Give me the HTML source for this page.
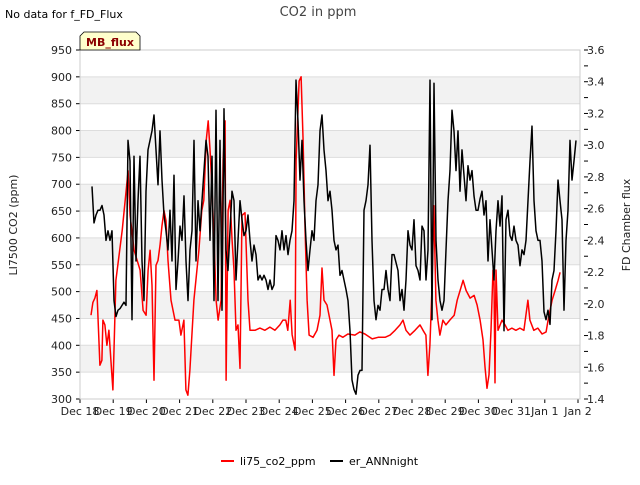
<!DOCTYPE html>
<html><head><meta charset="utf-8"><style>
body{margin:0;background:#fff;font-family:"Liberation Sans","DejaVu Sans",sans-serif}
svg text{font-family:"DejaVu Sans","Liberation Sans",sans-serif}
</style></head><body>
<svg id="chart" width="640" height="480" viewBox="0 0 640 480" xmlns="http://www.w3.org/2000/svg">
<text x="318" y="16" font-size="13" fill="#444" text-anchor="middle">CO2 in ppm</text>
<text x="5" y="18" font-size="11" fill="#000">No data for f_FD_Flux</text>
<g id="plot"></g>
<g>
<path d="M80,50 L80,36 L84,32 L136,32 L140,36 L140,50 Z" fill="#ffffcc" stroke="#000" stroke-width="0.8"/>
<text x="110" y="46" font-size="11" font-weight="bold" fill="#8b0000" text-anchor="middle">MB_flux</text>
</g>
<text transform="translate(17,225) rotate(-90)" font-size="11" text-anchor="middle" fill="#222">LI7500 CO2 (ppm)</text>
<text transform="translate(630,225) rotate(-90)" font-size="11" text-anchor="middle" fill="#222">FD Chamber flux</text>
<g>
<g><line x1="221" y1="461" x2="234" y2="461" stroke="#f00" stroke-width="2"/><text x="240" y="465" font-size="11">li75_co2_ppm</text></g>
<g><line x1="330" y1="461" x2="343" y2="461" stroke="#000" stroke-width="2"/><text x="349" y="465" font-size="11">er_ANNnight</text></g>
</g>
</svg>
<script>
const xTickLabels=["Dec 18","Dec 19","Dec 20","Dec 21","Dec 22","Dec 23","Dec 24","Dec 25","Dec 26","Dec 27","Dec 28","Dec 29","Dec 30","Dec 31","Jan 1","Jan 2"];
const yTicks=[300,350,400,450,500,550,600,650,700,750,800,850,900,950];
const y2Ticks=[1.4,1.6,1.8,2.0,2.2,2.4,2.6,2.8,3.0,3.2,3.4,3.6];
const redDays=[0.33,0.39,0.45,0.51,0.57,0.60,0.66,0.69,0.75,0.81,0.87,0.93,0.99,1.08,1.27,1.45,1.51,1.63,1.81,1.90,1.99,2.05,2.11,2.17,2.23,2.29,2.35,2.41,2.47,2.53,2.59,2.65,2.74,2.86,2.98,3.04,3.13,3.19,3.25,3.31,3.43,3.58,3.67,3.73,3.80,3.86,3.92,3.98,4.04,4.10,4.16,4.25,4.31,4.37,4.40,4.46,4.52,4.58,4.64,4.70,4.76,4.82,4.88,4.97,5.06,5.12,5.27,5.42,5.57,5.72,5.87,6.02,6.11,6.20,6.26,6.33,6.39,6.48,6.51,6.60,6.66,6.72,6.78,6.84,6.90,7.02,7.14,7.23,7.29,7.35,7.44,7.53,7.59,7.65,7.71,7.80,7.92,8.07,8.28,8.43,8.58,8.80,8.98,9.19,9.34,9.49,9.64,9.73,9.82,9.94,10.09,10.24,10.33,10.42,10.48,10.54,10.60,10.66,10.72,10.78,10.84,10.93,11.02,11.14,11.27,11.36,11.45,11.54,11.63,11.75,11.87,11.96,12.05,12.14,12.20,12.26,12.32,12.38,12.44,12.47,12.50,12.53,12.59,12.71,12.80,12.89,13.01,13.13,13.25,13.37,13.49,13.55,13.67,13.79,13.92,14.04,14.10,14.22,14.31,14.40,14.46];
const redValues=[456,480,488,502,410,363,372,447,438,400,428,372,317,521,614,725,642,577,540,465,456,540,577,512,335,549,558,586,623,651,632,558,484,447,447,419,447,317,307,354,484,577,651,670,781,818,762,688,595,484,447,484,744,818,335,651,670,595,540,428,438,357,642,647,484,428,428,432,428,434,428,438,447,447,428,484,420,391,744,892,900,781,614,484,419,415,428,456,544,484,475,447,428,344,410,419,415,421,419,425,421,412,415,415,419,428,438,447,428,419,428,438,428,419,344,400,502,660,484,447,419,447,438,447,456,484,502,521,502,488,493,475,447,410,360,320,345,428,540,521,330,540,428,447,438,428,432,428,432,428,484,447,428,432,421,425,447,484,502,521,536];
const blackStartDay=0.361;
const blackStepDay=0.06024;
const blackValues=[2.74,2.51,2.56,2.59,2.59,2.62,2.56,2.40,2.46,2.40,2.46,2.02,1.92,1.96,1.97,1.99,2.01,1.99,3.03,2.90,1.90,2.93,2.27,2.65,2.93,2.27,2.02,2.71,2.97,3.03,3.09,3.19,2.97,2.75,3.09,2.78,2.56,2.46,2.34,2.59,2.27,2.81,2.09,2.27,2.49,2.40,2.68,2.27,2.02,2.34,2.46,3.03,2.27,2.65,2.46,2.65,2.84,3.03,2.93,2.40,2.93,2.02,3.22,2.02,3.03,1.96,3.23,2.34,2.21,2.46,2.71,2.65,2.15,2.40,2.65,2.53,2.43,2.46,2.56,2.40,2.27,2.37,2.31,2.15,2.18,2.15,2.18,2.15,2.09,2.15,2.09,2.12,2.43,2.40,2.34,2.46,2.34,2.43,2.31,2.40,2.46,2.65,3.41,3.15,2.78,3.03,2.65,2.40,2.21,2.34,2.46,2.40,2.65,2.75,3.09,3.19,2.97,2.84,2.65,2.71,2.59,2.40,2.34,2.37,2.18,2.21,2.15,2.09,2.02,1.83,1.52,1.46,1.43,1.55,1.58,1.58,2.59,2.65,2.75,3.00,2.40,2.02,1.90,1.99,1.96,2.09,2.09,2.21,2.09,2.02,2.31,2.31,2.26,2.21,2.02,2.09,1.96,2.15,2.46,2.37,2.34,2.53,2.24,2.21,2.15,2.49,2.46,2.15,2.34,3.41,1.90,3.39,2.40,2.15,2.02,1.96,2.02,2.34,2.65,2.84,3.22,3.09,2.84,3.09,2.71,2.97,2.81,2.65,2.87,2.78,2.84,2.68,2.59,2.59,2.66,2.71,2.56,2.65,2.27,2.53,2.34,2.15,2.46,2.65,2.49,2.68,1.83,2.53,2.59,2.43,2.40,2.49,2.40,2.37,2.24,2.34,2.31,2.40,2.65,2.90,3.12,2.65,2.46,2.40,2.40,2.27,1.95,1.90,1.96,1.87,2.15,2.21,2.46,2.78,2.65,2.53,1.96,2.40,2.59,3.03,2.78,2.90,3.03];

const NS="http://www.w3.org/2000/svg";
const L=80,R=580,T=50,B=399,dayPx=33.2;
const xs=d=>L+d*dayPx;
const yL=v=>B-(v-300)*(B-T)/650;
const yR=v=>B-(v-1.4)*(B-T)/2.2;
const plot=document.getElementById('plot');
function mk(tag,attrs,parent){const e=document.createElementNS(NS,tag);for(const k in attrs)e.setAttribute(k,attrs[k]);(parent||plot).appendChild(e);return e;}
mk('rect',{x:L,y:T,width:R-L,height:B-T,fill:'#fff'});
for(let i=0;i<yTicks.length-1;i++){
  if(i%2===1){const b=mk('rect',{x:L,y:yL(yTicks[i+1]),width:R-L,height:yL(yTicks[i])-yL(yTicks[i+1]),fill:'#f2f2f2'});
  
  }
}
yTicks.forEach(v=>{
  mk('line',{x1:L,x2:R,y1:yL(v),y2:yL(v),stroke:'#ddd','stroke-width':1});
  mk('line',{x1:L-4,x2:L,y1:yL(v),y2:yL(v),stroke:'#000'});
  const t=mk('text',{x:L-8,y:yL(v)+4,'font-size':11,'text-anchor':'end',fill:'#222'});t.textContent=v;
  
  
});
for(let k=0;k<=22;k++){const v=1.4+k*0.1;const y=yR(v);
  mk('line',{x1:R+4,x2:R+8,y1:y,y2:y,stroke:'#000'});
}
y2Ticks.forEach(v=>{const t=mk('text',{x:R+7,y:yR(v)+4,'font-size':11,fill:'#222'});t.textContent=v.toFixed(1);
  
  });
xTickLabels.forEach((s,i)=>{const x=xs(i);
  mk('line',{x1:x,x2:x,y1:B,y2:B+4,stroke:'#000'});
  const t=mk('text',{x:x,y:B+16,'font-size':11,'text-anchor':'middle',fill:'#222'});t.textContent=s;
  
  });
mk('rect',{x:L,y:T,width:R-L,height:B-T,fill:'none',stroke:'#ccc'});
const rp=mk('polyline',{points:redDays.map((d,i)=>xs(d).toFixed(1)+','+yL(redValues[i]).toFixed(1)).join(' '),fill:'none',stroke:'#f00','stroke-width':1.5,'stroke-linejoin':'round'});


const bp=mk('polyline',{points:blackValues.map((v,i)=>xs(blackStartDay+i*blackStepDay).toFixed(1)+','+yR(v).toFixed(1)).join(' '),fill:'none',stroke:'#000','stroke-width':1.5,'stroke-linejoin':'round'});


</script>
</body></html>
